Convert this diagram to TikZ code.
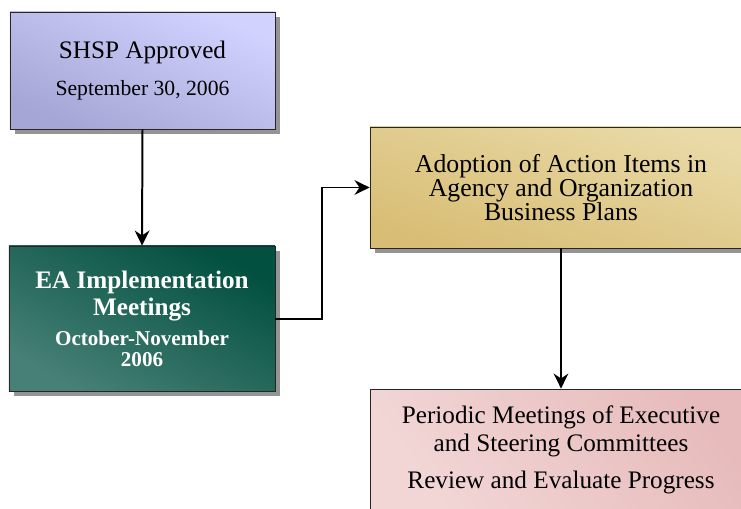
\documentclass[tikz,border=0pt]{standalone}
\usepackage{fontspec}
\setmainfont{Liberation Serif}
\usetikzlibrary{shadows, arrows.meta, positioning}

\definecolor{shspTop}{HTML}{D2D2FF}
\definecolor{shspMid}{HTML}{B4B4E2}
\definecolor{shspBot}{HTML}{A6A6D6}
\definecolor{eaTop}{HTML}{02503F}
\definecolor{eaMid}{HTML}{3D7469}
\definecolor{eaBot}{HTML}{478076}
\definecolor{adoTop}{HTML}{E9DAA7}
\definecolor{adoMid}{HTML}{E3CF92}
\definecolor{adoBot}{HTML}{D8BD75}
\definecolor{perTop}{HTML}{E7BBBB}
\definecolor{perMid}{HTML}{EDC9C9}
\definecolor{perBot}{HTML}{F2D6D6}

\tikzset{
  box/.style={rectangle, draw=black!85, line width=0.7pt, align=center, inner sep=0pt,
    drop shadow={shadow xshift=0.15cm, shadow yshift=-0.15cm, opacity=1, fill=black!42}},
  link/.style={line width=1.7pt, -{Stealth[length=0.45cm, width=0.44cm]}}
}

\begin{document}
\begin{tikzpicture}[x=0.03cm, y=-0.03cm]
    \useasboundingbox (0,0) rectangle (741,508);
    % the four boxes
    \node[box, top color=shspTop, middle color=shspMid, bottom color=shspBot, shading angle=-24,
          minimum width=7.95cm, minimum height=3.51cm,
          font=\fontsize{21.5pt}{18.8pt}\selectfont] (shsp) at (142.5,70.5)
        {SHSP Approved\\[12.8pt]{\fontsize{18.5pt}{18pt}\selectfont September 30, 2006}};
    \node[box, top color=eaTop, middle color=eaMid, bottom color=eaBot, shading angle=-28, text=white,
          minimum width=7.98cm, minimum height=4.35cm,
          font=\bfseries\fontsize{21.5pt}{23pt}\selectfont] (ea) at (142,318.5)
        {EA Implementation\\Meetings\\[2.6pt]{\fontsize{18pt}{18pt}\selectfont October-November}\\[-5pt]{\fontsize{18pt}{18pt}\selectfont 2006}};
    \node[box, top color=adoTop, middle color=adoMid, bottom color=adoBot, shading angle=-18,
          minimum width=11.46cm, minimum height=3.63cm,
          font=\fontsize{22pt}{20.5pt}\selectfont] (adopt) at (561,187.5)
        {Adoption of Action Items in\\Agency and Organization\\Business Plans};
    \node[box, top color=perTop, middle color=perMid, bottom color=perBot, shading angle=-55,
          minimum width=11.46cm, minimum height=3.66cm,
          font=\fontsize{21.5pt}{23.9pt}\selectfont] (period) at (561,450)
        {Periodic Meetings of Executive\\and Steering Committees\\[7.7pt]Review and Evaluate Progress};
    % connectors
    \draw[link] (shsp.south) -- (ea.north);
    \draw[link] (ea.east) -- ++(47,0) |- (adopt.west);
    \draw[link] (adopt.south) -- (period.north);
\end{tikzpicture}
\end{document}
